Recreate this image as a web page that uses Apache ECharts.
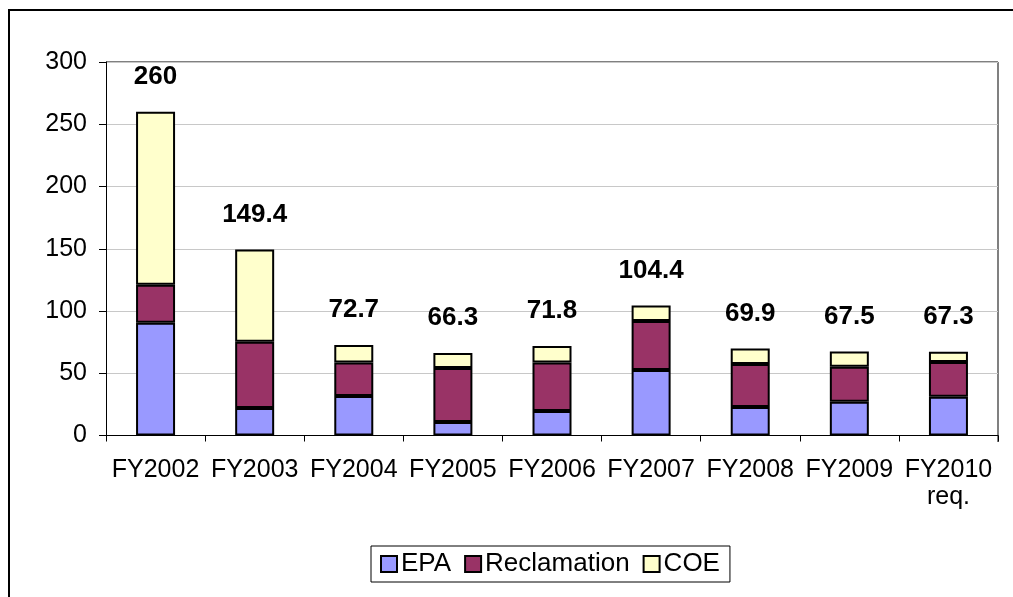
<!DOCTYPE html>
<html>
<head>
<meta charset="utf-8">
<script src="https://cdn.jsdelivr.net/npm/echarts@6/dist/echarts.min.js"></script>
<style>
html,body{margin:0;padding:0;background:#fff;}
#c{width:1013px;height:597px;}
</style>
</head>
<body>
<div id="c"></div>
<script>
const categories = ['FY2002','FY2003','FY2004','FY2005','FY2006','FY2007','FY2008','FY2009','FY2010\nreq.'];
const epa = [90.5, 22, 31.7, 10.8, 19.7, 52.6, 22.9, 27.1, 31.1];
const reclamation = [30.5, 53.4, 27, 43.4, 39, 39.3, 34.5, 28.1, 27.9];
const coe = [139, 74, 14, 12.1, 13.1, 12.5, 12.5, 12.3, 8.3];
const totals = ['260','149.4','72.7','66.3','71.8','104.4','69.9','67.5','67.3'];
const yTicks = [0, 50, 100, 150, 200, 250, 300];

const FONT = "'Liberation Sans', Arial, sans-serif";
const chart = echarts.init(document.getElementById('c'));

const barStyle = (color) => ({ color: color, borderColor: '#000', borderWidth: 2 });

chart.setOption({
  animation: false,
  backgroundColor: '#fff',
  textStyle: { fontFamily: FONT },
  grid: { left: 106, right: 15, top: 62, bottom: 161.5, containLabel: false },
  legend: {
    left: 371, top: 546,
    padding: [5, 10, 5, 9],
    borderColor: '#000', borderWidth: 1,
    itemWidth: 16, itemHeight: 16, itemGap: 13,
    icon: 'rect',
    itemStyle: { borderColor: '#000', borderWidth: 2 },
    textStyle: { fontFamily: FONT, fontSize: 26, color: '#000', padding: [0, 0, 0, -1] },
    data: ['EPA', 'Reclamation', 'COE']
  },
  xAxis: {
    type: 'category',
    data: categories,
    axisLine: { lineStyle: { color: '#000', width: 1 } },
    axisTick: { show: true, length: 6, lineStyle: { color: '#000' } },
    axisLabel: { interval: 0, fontFamily: FONT, fontSize: 25, color: '#000', margin: 21, lineHeight: 27, align: 'center' }
  },
  yAxis: {
    type: 'value',
    min: yTicks[0], max: yTicks[yTicks.length - 1], interval: 50,
    axisLine: { show: true, lineStyle: { color: '#000', width: 1 } },
    axisTick: { show: true, length: 7, lineStyle: { color: '#000' } },
    axisLabel: { fontFamily: FONT, fontSize: 25, color: '#000', margin: 19 },
    splitLine: { show: true, lineStyle: { color: '#c8c8c8', width: 1 } }
  },
  series: [
    { name: 'EPA', type: 'bar', stack: 'a', data: epa, barWidth: 39, itemStyle: barStyle('#9999FF') },
    { name: 'Reclamation', type: 'bar', stack: 'a', data: reclamation, barWidth: 39, itemStyle: barStyle('#993366') },
    { name: 'COE', type: 'bar', stack: 'a', data: coe, barWidth: 39, itemStyle: barStyle('#FFFFCC'),
      label: { show: true, position: 'top', distance: 22, fontFamily: FONT, fontSize: 26, fontWeight: 'bold', color: '#000',
        formatter: (p) => totals[p.dataIndex] } }
  ],
  graphic: [
    { type: 'rect', shape: { x: 9, y: 10, width: 1200, height: 800 }, style: { fill: 'none', stroke: '#000', lineWidth: 2 }, silent: true },
    { type: 'line', shape: { x1: 106, y1: 62, x2: 998, y2: 62 }, style: { stroke: '#000', lineWidth: 1 }, silent: true },
    { type: 'line', shape: { x1: 998, y1: 62, x2: 998, y2: 442 }, style: { stroke: '#808080', lineWidth: 2 }, silent: true }
  ]
});
</script>
</body>
</html>
